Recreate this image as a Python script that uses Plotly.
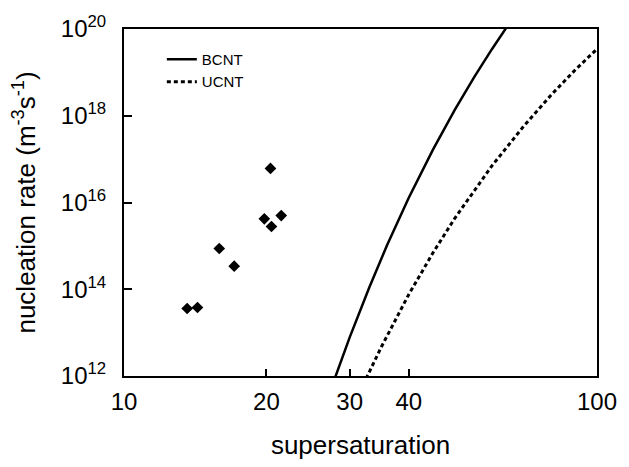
import plotly.graph_objects as go

# Experimental nucleation rates (diamonds)
exp_supersaturation = [13.6, 14.3, 15.9, 17.1, 19.8, 20.5, 21.5, 20.4]
exp_rate = [3.6e13, 3.8e13, 8.7e14, 3.4e14, 4.2e15, 2.8e15, 5.0e15, 6.1e16]

# BCNT curve, log10 of rate
bcnt_supersaturation = [28, 30, 33, 36, 40, 45, 50, 55, 60, 64.5]
bcnt_log10_rate = [11.99, 12.89, 14.04, 15.02, 16.11, 17.22, 18.13, 18.89, 19.54, 20.05]

# UCNT curve, log10 of rate
ucnt_supersaturation = [32.5, 35, 40, 45, 50, 60, 70, 80, 90, 100]
ucnt_log10_rate = [11.94, 12.67, 13.88, 14.84, 15.63, 16.85, 17.76, 18.48, 19.06, 19.54]

x_tickvals = [10, 20, 30, 40, 100]
x_ticktext = ["10", "20", "30", "40", "100"]
y_exponents = [12, 14, 16, 18, 20]

FONT = "Liberation Sans, Arial, Helvetica, sans-serif"

fig = go.Figure()
fig.add_trace(go.Scatter(
    x=bcnt_supersaturation, y=[10.0 ** v for v in bcnt_log10_rate],
    mode="lines", name="BCNT",
    line=dict(color="black", width=2.5),
))
fig.add_trace(go.Scatter(
    x=ucnt_supersaturation, y=[10.0 ** v for v in ucnt_log10_rate],
    mode="lines", name="UCNT",
    line=dict(color="black", width=3, dash="4px,3px"),
))
fig.add_trace(go.Scatter(
    x=exp_supersaturation, y=exp_rate,
    mode="markers", showlegend=False,
    marker=dict(symbol="diamond", size=9, color="black", line=dict(width=0)),
))

fig.update_layout(
    width=629, height=467,
    margin=dict(l=124, r=25, t=28, b=88),
    paper_bgcolor="white", plot_bgcolor="white",
    font=dict(family=FONT, color="black", size=24),
    showlegend=True,
    legend=dict(
        x=0.08, y=0.96, xanchor="left", yanchor="top",
        bgcolor="rgba(0,0,0,0)", borderwidth=0,
        font=dict(size=15, family=FONT),
        tracegroupgap=0,
    ),
)
fig.update_xaxes(
    type="log", range=[1, 2],
    tickvals=x_tickvals, ticktext=x_ticktext,
    ticks="inside", ticklen=7, tickwidth=1.5, tickcolor="black",
    showline=True, linecolor="black", linewidth=2, mirror=True,
    showgrid=False, zeroline=False,
    tickfont=dict(size=24), ticklabelstandoff=3,
    title=dict(text="supersaturation", font=dict(size=26), standoff=22),
)
fig.update_yaxes(
    type="log", range=[12, 20],
    tickvals=[10.0 ** e for e in y_exponents],
    ticktext=["10<sup>%d</sup>" % e for e in y_exponents],
    ticks="inside", ticklen=8, tickwidth=1.5, tickcolor="black",
    showline=True, linecolor="black", linewidth=2, mirror=True,
    showgrid=False, zeroline=False,
    tickfont=dict(size=24), ticklabelstandoff=11,
    title=dict(text="nucleation rate (m<sup>-3</sup>s<sup>-1</sup>)", font=dict(size=26), standoff=18),
)

fig.write_html("out.html")
